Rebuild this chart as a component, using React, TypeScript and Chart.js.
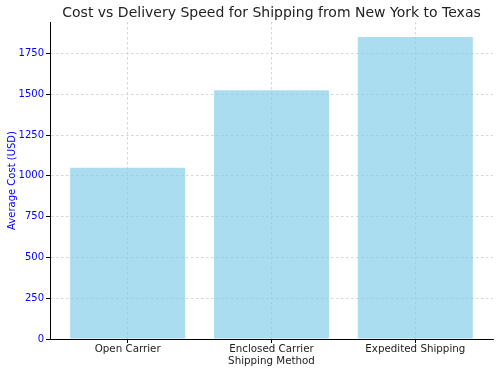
import React, { useEffect, useRef } from "react";
import { Chart, registerables } from "chart.js";

Chart.register(...registerables);

const categories = ["Open Carrier", "Enclosed Carrier", "Expedited Shipping"];
const avgCost = [1050, 1525, 1850];
const yTicks = [0, 250, 500, 750, 1000, 1250, 1500, 1750];
const titleText = "Cost vs Delivery Speed for Shipping from New York to Texas";
const xTitle = "Shipping Method";
const yTitle = "Average Cost (USD)";

const FONT = "'DejaVu Sans', sans-serif";

const titlePlugin = {
  id: "customTitle",
  afterDraw(chart: any) {
    const ctx = chart.ctx;
    ctx.save();
    ctx.font = `14px ${FONT}`;
    ctx.fillStyle = "#222";
    ctx.textAlign = "center";
    ctx.textBaseline = "middle";
    const ca = chart.chartArea;
    ctx.fillText(titleText, (ca.left + ca.right) / 2, 13);
    ctx.restore();
  },
};

export default function App() {
  const ref = useRef<HTMLCanvasElement>(null);
  useEffect(() => {
    if (!ref.current) return;
    const chart = new Chart(ref.current, {
      type: "bar",
      data: {
        datasets: [
          {
            data: categories.map((_, i) => ({ x: i, y: avgCost[i] })),
            backgroundColor: "rgba(135,206,235,0.7)",
            borderWidth: 0,
            barPercentage: 0.8,
            categoryPercentage: 1,
          },
        ],
      },
      options: {
        animation: false,
        responsive: false,
        maintainAspectRatio: false,
        layout: { padding: { top: 22, right: 7, left: 0, bottom: 0 } },
        plugins: { legend: { display: false }, title: { display: false }, tooltip: { enabled: false } },
        scales: {
          x: {
            type: "linear",
            min: -0.54,
            max: 2.54,
            offset: false,
            afterBuildTicks(scale: any) {
              scale.ticks = categories.map((_, i) => ({ value: i }));
            },
            afterFit(scale: any) {
              scale.height = 34;
            },
            ticks: {
              color: "#222",
              font: { family: FONT, size: 10.3 },
              padding: 0,
              maxRotation: 0,
              autoSkip: false,
              callback: (v: any) => categories[v] ?? "",
            },
            grid: {
              offset: false,
              color: "#cccccc",
              lineWidth: 0.8,
              tickColor: "#000",
              tickLength: 4,
              tickWidth: 1,
            },
            border: { display: true, color: "#000", width: 1, dash: [2.5, 2.5] },
            title: {
              display: true,
              text: xTitle,
              color: "#222",
              font: { family: FONT, size: 10.3 },
              padding: { top: 0, bottom: 5 },
            },
          },
          y: {
            type: "linear",
            min: 0,
            max: 1942.5,
            afterBuildTicks(scale: any) {
              scale.ticks = yTicks.map((v) => ({ value: v }));
            },
            afterFit(scale: any) {
              scale.width = 50;
            },
            ticks: {
              color: "#0000ff",
              font: { family: FONT, size: 10 },
              padding: 2,
              callback: (v: any) => String(v),
            },
            grid: {
              color: "#cccccc",
              lineWidth: 0.8,
              tickColor: "#000",
              tickLength: 4,
              tickWidth: 1,
            },
            border: { display: true, color: "#000", width: 1, dash: [2.5, 2.5] },
            title: {
              display: true,
              text: yTitle,
              color: "#0000ff",
              font: { family: FONT, size: 10 },
              padding: { top: 6, bottom: 0 },
            },
          },
        },
      },
      plugins: [titlePlugin],
    } as any);
    return () => chart.destroy();
  }, []);
  return (
    <div style={{ position: "absolute", left: 0, top: 0, width: 500, height: 373, background: "#fff" }}>
      <canvas ref={ref} width={500} height={373} style={{ width: 500, height: 373 }} />
    </div>
  );
}
